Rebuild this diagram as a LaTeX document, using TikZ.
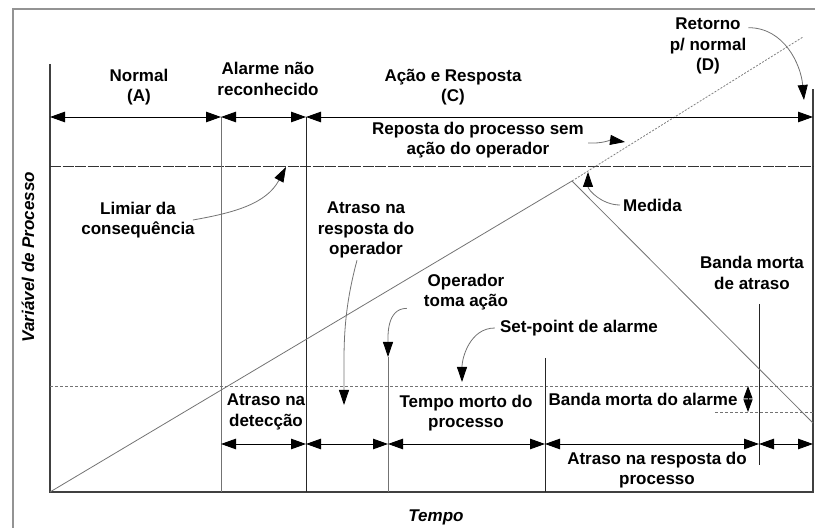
\documentclass[tikz,border=0pt]{standalone}
\usepackage{fontspec}
\setmainfont{Liberation Sans}
\usepackage{tikz}
\usetikzlibrary{arrows.meta,positioning,calc}

\begin{document}
\begin{tikzpicture}[
  x=1pt, y=1pt,
  lbl/.style={font=\bfseries\fontsize{17}{20.5}\selectfont, align=center, inner sep=0pt},
  axlbl/.style={font=\bfseries\itshape\fontsize{17}{20.5}\selectfont, inner sep=0pt},
  span/.style={{Triangle[length=15pt,width=10.5pt]}-{Triangle[length=15pt,width=10.5pt]},
               line width=0.9pt, black},
  pointer/.style={-{Triangle[length=15pt,width=10pt,color=black]},
                  line width=0.8pt, draw=gray!90!black},
  vline/.style={line width=1pt, draw=gray!90!black},
  vlinedark/.style={line width=1pt, draw=black!85},
  alarmline/.style={line width=0.9pt, draw=gray!90!black, dash pattern=on 3pt off 2pt}
]
  \useasboundingbox (0,0) rectangle (815,528);

  % frame and axes
  \draw[line width=1.6pt, gray!85] (13,0) -- (13,519) -- (815,519);
  \draw[line width=1.2pt, black!75] (50,464) -- (50,36) -- (813,36) -- (813,439);

  % key points
  \coordinate (origin) at (50,36);
  \coordinate (peak) at (572,347);
  \coordinate (fallEnd) at (813,105);
  \coordinate (noAction) at (803,491);
  \coordinate (opAction) at (388,171);

  % thresholds
  \draw[line width=0.9pt, black!80, dash pattern=on 11pt off 1.5pt] (50,362) -- (813,362);
  \draw[alarmline] (50,142) -- (813,142);
  \draw[alarmline] (715,116) -- (813,116);

  % vertical markers
  \draw[vline] (221,411) -- (221,36);
  \draw[vlinedark] (306,411) -- (306,36);
  \draw[vline] (opAction) -- (388,36);
  \draw[vlinedark] (545,170) -- (545,36);
  \draw[vlinedark] (759,224) -- (759,63);

  % process variable
  \draw[line width=0.8pt, gray!90!black] (origin) -- (peak) -- (fallEnd);
  \draw[line width=0.8pt, gray, dash pattern=on 2pt off 1.5pt] (peak) -- (noAction);

  % time spans
  \draw[span] (50,411) -- (221,411);
  \draw[span] (221,411) -- (306,411);
  \draw[span] (306,411) -- (813,411);
  \draw[span] (221,84) -- (306,84);
  \draw[span] (306,84) -- (388,84);
  \draw[span] (388,84) -- (545,84);
  \draw[span] (545,84) -- (759,84);
  \draw[span] (759,84) -- (813,84);
  \draw[{Triangle[length=12.5pt,width=9pt]}-{Triangle[length=12.5pt,width=9pt]}, line width=0.9pt]
    (748,142) -- (748,116);

  % labels
  \node[lbl] (normal) at (139,441) {Normal\\(A)};
  \node[lbl] (alarme) at (268,449) {Alarme não\\reconhecido};
  \node[lbl] (acao) at (453,441) {Ação e Resposta\\(C)};
  \node[lbl] (reposta) at (478,388) {Reposta do processo sem\\ação do operador};
  \node[lbl] (retorno) at (708,482) {Retorno\\p/ normal\\(D)};
  \node[lbl] (limiar) at (138,308) {Limiar da\\consequência};
  \node[lbl] (atrasoOp) at (366,298) {Atraso na\\resposta do\\operador};
  \node[lbl, anchor=west] (medida) at (623,323) {Medida};
  \node[lbl] (operador) at (466,236) {Operador\\toma ação};
  \node[lbl] (bandaAtraso) at (752,255) {Banda morta\\de atraso};
  \node[lbl] (setpoint) at (579,200) {Set-point de alarme};
  \node[lbl] (atrasoDet) at (266,116) {Atraso na\\detecção};
  \node[lbl] (tempoMorto) at (466,115) {Tempo morto do\\processo};
  \node[lbl] (bandaAlarme) at (643,129) {Banda morta do alarme};
  \node[lbl] (atrasoProc) at (657,58) {Atraso na resposta do\\processo};
  \node[axlbl] (tempo) at (436,11) {Tempo};
  \node[axlbl, rotate=90] (variavel) at (28,271) {Variável de Processo};

  % pointers
  \draw[pointer] ([xshift=-2pt]limiar.east) to[out=10, in=-118] (286,361);
  \draw[pointer] ([xshift=-9pt,yshift=-2pt]atrasoOp.south) to[out=-105, in=90] (344,123);
  \draw[pointer] ($(operador.south west)+(-17pt,2pt)$) to[out=180, in=90] (opAction);
  \draw[pointer] ([xshift=-5pt]setpoint.west) to[out=180, in=90] (462,146);
  \draw[pointer] ([xshift=4pt,yshift=-3pt]reposta.east) to[out=-3, in=172] (625,386);
  \draw[pointer] ([xshift=-3pt]medida.west) to[out=180, in=-90] (588,356);
  \draw[pointer] ($(retorno.north east)+(2pt,-10pt)$) to[out=0, in=95] (804,428);
\end{tikzpicture}
\end{document}
